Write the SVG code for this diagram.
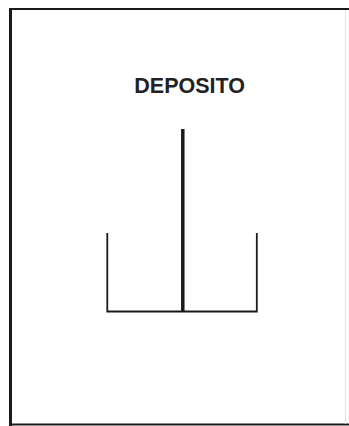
<svg xmlns="http://www.w3.org/2000/svg" width="349" height="426" viewBox="0 0 349 426">
<style>
.ln{stroke:#1a1a1a;fill:none;stroke-linecap:butt}
.t{font-family:"Liberation Sans",Arial,sans-serif;font-weight:bold;fill:#222}
</style>
<rect width="349" height="426" fill="#fff"/>
<g id="frame">
<line class="ln" x1="10.5" y1="8" x2="10.5" y2="426" stroke-width="3"/>
<line class="ln" x1="9" y1="9" x2="349" y2="9" stroke-width="2"/>
<line class="ln" x1="9" y1="424.5" x2="349" y2="424.5" stroke-width="2"/>
<line x1="345.5" y1="10" x2="345.5" y2="424" stroke="#e4e4e4" stroke-width="1"/>
</g>
<g id="label">
<text class="t" x="189.7" y="92.7" font-size="21.5" text-anchor="middle">DEPOSITO</text>
</g>
<g id="connectors">
<line class="ln" x1="182.8" y1="129" x2="182.8" y2="312" stroke-width="3.5"/>
<polyline class="ln" points="107.3,233 107.3,311.5 256.8,311.5 256.8,233" stroke-width="1.8"/>
</g>
</svg>
